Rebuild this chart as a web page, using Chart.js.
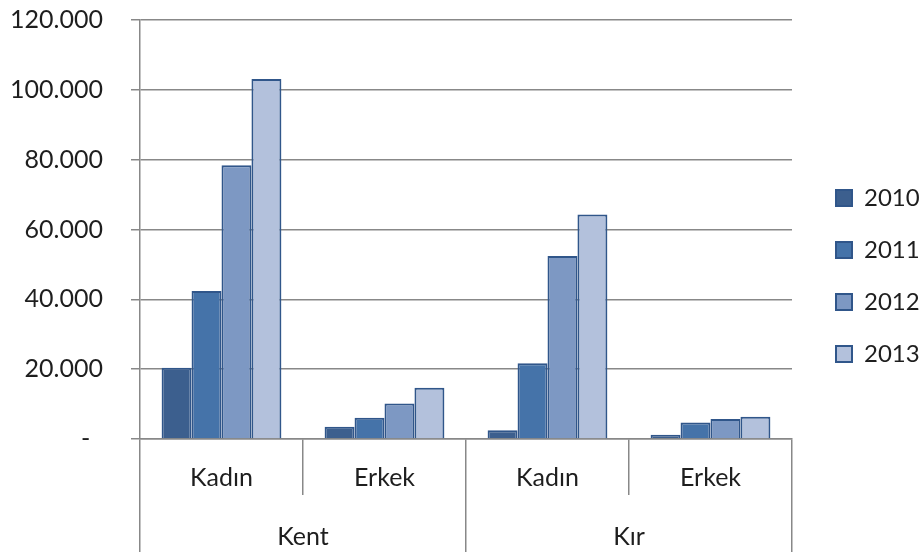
<!DOCTYPE html>
<html>
<head>
<meta charset="utf-8">
<script src="https://cdn.jsdelivr.net/npm/chart.js@4"></script>
<style>
  body { margin: 0; background: #fff; }
  #chart { display: block; }
</style>
</head>
<body>
<canvas id="chart" width="922" height="552"></canvas>
<script>
const subCategories = ["Kadın", "Erkek", "Kadın", "Erkek"];
const groups = ["Kent", "Kır"];
const years = ["2010", "2011", "2012", "2013"];
const values2010 = [20400, 3500, 2500, 1200];
const values2011 = [42400, 6100, 21700, 4700];
const values2012 = [78400, 10200, 52400, 5700];
const values2013 = [103100, 14700, 64300, 6400];
const yTicks = [0, 20000, 40000, 60000, 80000, 100000, 120000];

const fills = ["#3c5f8e", "#4573a9", "#7d98c3", "#b3c1dc"];
const edge = "#30568a";
const lineGray = "#888888";
const textColor = "#1e1e1e";
const font = { family: "Lato", size: 25 };

const series = [values2010, values2011, values2012, values2013];

const data = {
  labels: subCategories,
  datasets: series.map((vals, i) => ({
    label: years[i],
    data: vals,
    backgroundColor: fills[i],
    borderColor: edge,
    borderWidth: 2,
    categoryPercentage: 0.735,
    barPercentage: 1.0,
  })),
};

const config = {
  type: "bar",
  data,
  options: {
    responsive: false,
    animation: false,
    layout: { padding: 0 },
    plugins: {
      tooltip: { enabled: false },
      legend: {
        position: "right",
        align: "center",
        maxWidth: 114,
        labels: {
          font: { family: "Lato", size: 24 },
          color: textColor,
          boxWidth: 16,
          boxHeight: 16,
          padding: 28,
        },
      },
    },
    scales: {
      x: {
        weight: 0,
        offset: true,
        grid: {
          offset: true,
          drawOnChartArea: false,
          drawTicks: true,
          tickLength: 56,
          color: lineGray,
          lineWidth: 1.5,
        },
        border: { display: true, color: lineGray, width: 1.5 },
        ticks: {
          font,
          color: textColor,
          padding: -32,
          maxRotation: 0,
          autoSkip: false,
        },
        afterFit: (scale) => { scale.height = 56; },
      },
      x2: {
        type: "category",
        labels: groups,
        position: "bottom",
        weight: 1,
        offset: true,
        grid: {
          offset: true,
          drawOnChartArea: false,
          drawTicks: true,
          tickLength: 57,
          color: lineGray,
          lineWidth: 1.5,
        },
        border: { display: false },
        ticks: {
          font,
          color: textColor,
          padding: -30,
          maxRotation: 0,
          autoSkip: false,
        },
        afterFit: (scale) => { scale.height = 57; },
      },
      y: {
        min: 0,
        max: 120000,
        afterBuildTicks: (scale) => {
          scale.ticks = yTicks.map((v) => ({ value: v }));
        },
        grid: {
          color: lineGray,
          lineWidth: 1.5,
          drawTicks: true,
          tickLength: 9,
        },
        border: { display: true, color: lineGray, width: 1.5 },
        ticks: {
          font,
          color: textColor,
          padding: 28,
          callback: (v) => (v === 0 ? "-  " : v.toLocaleString("de-DE")),
        },
        afterFit: (scale) => {
          scale.width = 140;
          scale.paddingTop = 20;
          scale.paddingBottom = 0;
        },
      },
      yr: {
        type: "linear",
        position: "right",
        display: true,
        grid: { display: false },
        border: { display: false },
        ticks: { display: false },
        afterFit: (scale) => { scale.width = 16; },
      },
    },
  },
};

const chart = new Chart(document.getElementById("chart"), config);
</script>
</body>
</html>
